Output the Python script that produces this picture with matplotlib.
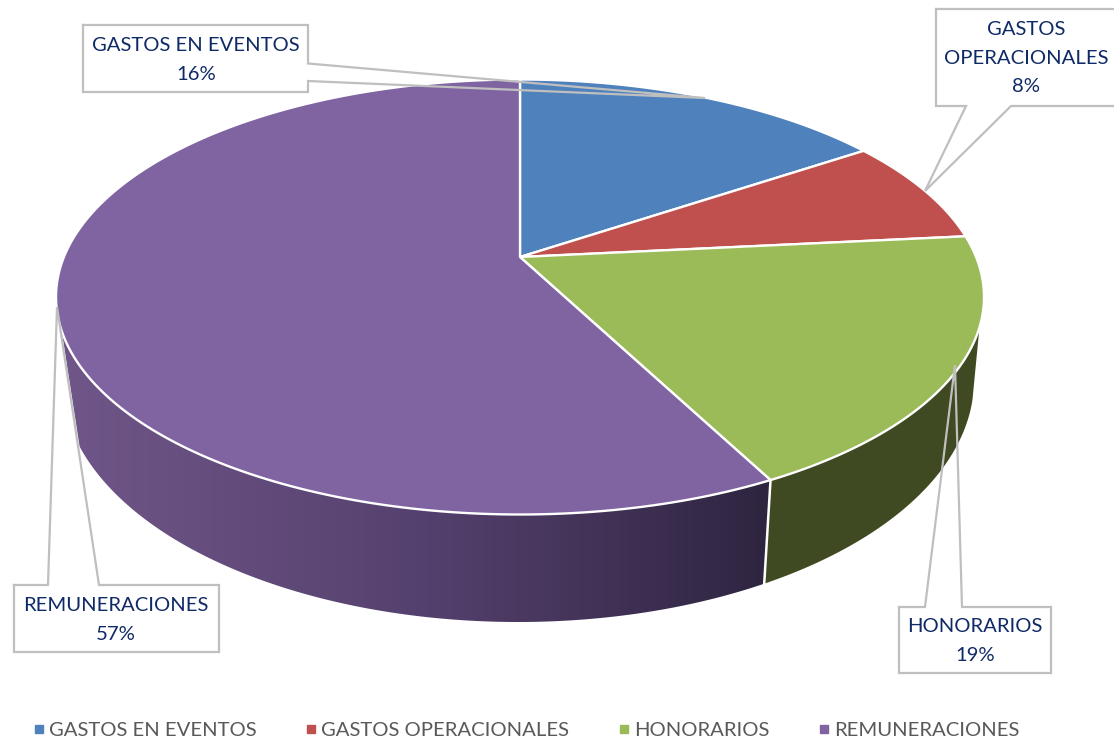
import numpy as np
import matplotlib.pyplot as plt
from matplotlib.colors import LinearSegmentedColormap
from matplotlib.lines import Line2D
from matplotlib.patches import Polygon, Rectangle

categories = ["GASTOS EN EVENTOS", "GASTOS OPERACIONALES", "HONORARIOS", "REMUNERACIONES"]
label_names = ["GASTOS EN EVENTOS", "GASTOS\nOPERACIONALES", "HONORARIOS", "REMUNERACIONES"]
shares = [15.6, 7.8, 19.0, 57.6]  # slice sizes as read from the rim
percent_labels = [16, 8, 19, 57]
colors = ["#4f81bd", "#c0504d", "#9bbb59", "#8064a2"]

plt.rcParams["font.family"] = ["Lato", "DejaVu Sans"]

# pie geometry in pixels, top rim ellipse and bottom rim ellipse
CX, CY, RX, RY = 520, 297, 464, 217.5
BCX, BY, BRX, BRY = 518, 380, 456, 242
APEX_SHIFT = 40 / RY  # perspective moves the centre upwards


def rim_point(frac):
    # clockwise from 12 o'clock, circle projected onto the ellipse
    a = 2 * np.pi * np.asarray(frac)
    x, y = np.sin(a), np.cos(a)
    d = 1 + APEX_SHIFT * y
    px = x * np.sqrt(1 - APEX_SHIFT ** 2) / d
    py = (y + APEX_SHIFT) / d
    return CX + RX * px, CY - RY * py


def top_arc(a0, a1):
    t = np.radians(np.linspace(a0, a1, 150))
    return np.column_stack([CX + RX * np.cos(t), CY - RY * np.sin(t)])


def bottom_arc(a0, a1):
    t = np.radians(np.linspace(a0, a1, 150))
    return np.column_stack([BCX + BRX * np.cos(t), BY - BRY * np.sin(t)])


fig = plt.figure(figsize=(11.14, 7.4), dpi=100)
ax = fig.add_axes([0, 0, 1, 1])
ax.axis("off")

# side walls
edges = np.cumsum([0] + shares) / sum(shares)
ex, ey = rim_point(edges[3])
split_top = -np.degrees(np.arcsin((CY - ey) / -RY))
split_bot = -np.degrees(np.arccos((ex - CX) / RX))

green_wall = np.vstack([top_arc(-8, split_top), bottom_arc(split_bot, -4.7)])
ax.add_patch(Polygon(green_wall, closed=True, fc="#404a22", ec="none", zorder=1))

purple_wall = np.vstack([top_arc(-171, split_top), bottom_arc(split_bot, -164)])
wall = Polygon(purple_wall, closed=True, fc="none", ec="none", zorder=1)
ax.add_patch(wall)
cmap = LinearSegmentedColormap.from_list(
    "wall", ["#705689", "#634c7b", "#55416f", "#433358", "#2e2540"])
img = ax.imshow(np.linspace(0, 1, 256).reshape(1, -1), cmap=cmap, aspect="auto",
                extent=(60, 770, 740, 0), zorder=1)
img.set_clip_path(wall)
ax.set_xlim(0, 1114)
ax.set_ylim(740, 0)

ax.plot([ex, BCX + BRX * np.cos(np.radians(split_bot))],
        [ey, BY - BRY * np.sin(np.radians(split_bot))], color="white", lw=1.8, zorder=2)

# top of the pie
apex = (CX, CY - RY * APEX_SHIFT)
for i, c in enumerate(colors):
    f = np.linspace(edges[i], edges[i + 1], 200)
    rx, ry = rim_point(f)
    pts = np.vstack([[apex], np.column_stack([rx, ry])])
    ax.add_patch(Polygon(pts, closed=True, fc=c, ec="white", lw=1.7, joinstyle="round", zorder=3))

# data labels with their leaders, box then outline
boxes = [(83, 25, 308, 92), (936, 9, 1130, 106), (899, 607, 1051, 673), (14, 585, 219, 652)]
outlines = [
    [(83, 25), (308, 25), (308, 63.5), (705, 98), (308, 81), (308, 92), (83, 92), (83, 25)],
    [(936, 9), (1130, 9), (1130, 106), (1011, 106), (925, 191), (966, 106), (936, 106), (936, 9)],
    [(899, 607), (925, 607), (955, 365), (962, 607), (1051, 607), (1051, 673), (899, 673), (899, 607)],
    [(14, 585), (48, 585), (57, 307), (99, 585), (219, 585), (219, 652), (14, 652), (14, 585)],
]
text_centers = [(196, 60), (1026, 58), (975, 641), (116, 620)]
for name, v, b, o, tc in zip(label_names, percent_labels, boxes, outlines, text_centers):
    ax.add_patch(Rectangle((b[0], b[1]), b[2] - b[0], b[3] - b[1], fc="white", ec="none", zorder=4))
    ox, oy = zip(*o)
    ax.plot(ox, oy, color="#bfbfbf", lw=1.6, solid_joinstyle="miter", zorder=5)
    ax.text(tc[0], tc[1], f"{name}\n{v}%", ha="center", va="center", fontsize=14.6,
            color="#0f2a66", linespacing=1.84, zorder=6)

handles = [Line2D([], [], ls="none", marker="s", ms=6, color=c) for c in colors]
ax.legend(handles, categories, loc="center", bbox_to_anchor=(524 / 1114, 1 - 730 / 740), ncol=4,
          frameon=False, fontsize=14.6, labelcolor="#595959", handletextpad=0.0,
          columnspacing=2.18, handlelength=1.0)

fig.savefig("out.png", dpi=100)
